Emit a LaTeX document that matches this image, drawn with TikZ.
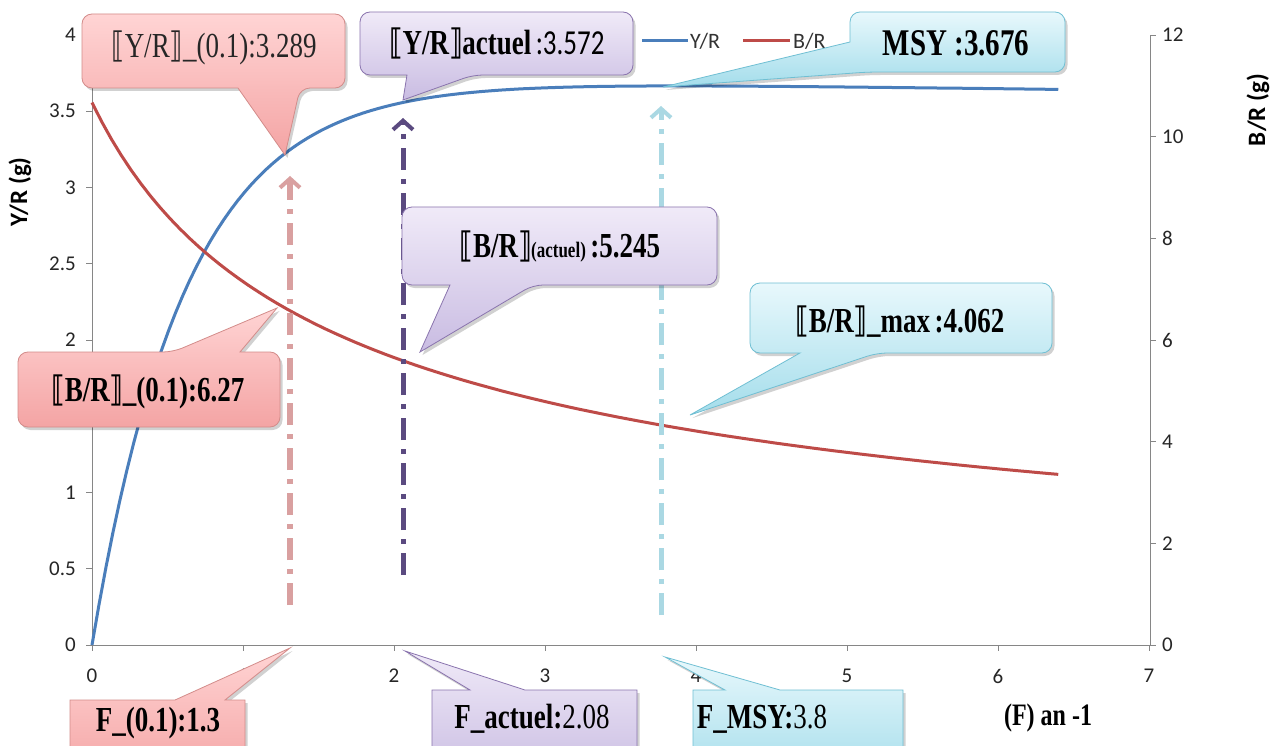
\documentclass[tikz,border=0pt]{standalone}
\usepackage{fontspec}
\usepackage{graphicx}
\setmainfont{Liberation Serif}
\newfontfamily\calfont{Carlito}
\newfontfamily\brfont{DejaVu Sans}
\usetikzlibrary{arrows.meta}
\newcommand{\obr}{{\brfont ⟦}}
\newcommand{\cbr}{{\brfont ⟧}}
\newcommand{\vstr}[1]{\scalebox{1}[1.3]{#1}}
\newcommand{\callout}[2]{\fill[black,opacity=.18,xshift=2.5pt,yshift=-3pt] #2; \path[#1] #2;}
\definecolor{axisgray}{HTML}{868686}
\definecolor{ybl}{HTML}{4A7EBB}
\definecolor{bred}{HTML}{BE4B48}
\definecolor{pinkT}{HTML}{FFD4D4}
\definecolor{pinkB}{HTML}{F4A4A4}
\definecolor{pinkD}{HTML}{D38C8A}
\definecolor{purT}{HTML}{F0EAF8}
\definecolor{purB}{HTML}{C9BCE2}
\definecolor{purD}{HTML}{8A74AE}
\definecolor{cyT}{HTML}{E8F8FC}
\definecolor{cyB}{HTML}{A4DDEB}
\definecolor{cyD}{HTML}{6FBFD3}
\definecolor{pinkArrow}{HTML}{D9A0A0}
\definecolor{purArrow}{HTML}{5B4A80}
\definecolor{cyArrow}{HTML}{AAD8E3}
\tikzset{
  axisline/.style={draw=axisgray,line width=1pt},
  ticklab/.style={font=\calfont\fontsize{21}{21}\selectfont,inner sep=0pt,text=black!85},
  axtitle/.style={font=\calfont\fontsize{25}{25}\selectfont\bfseries,inner sep=0pt,rotate=90},
  legtext/.style={font=\calfont\fontsize{22}{22}\selectfont,inner sep=0pt,anchor=west,text=black!80},
  pinkbox/.style={top color=pinkT,bottom color=pinkB,draw=pinkD,line width=0.8pt},
  purbox/.style={top color=purT,bottom color=purB,draw=purD,line width=0.8pt},
  cybox/.style={top color=cyT,bottom color=cyB,draw=cyD,line width=0.8pt},
  calltext/.style={font=\fontsize{27}{27}\selectfont,inner sep=0pt},
  varrow/.style={line width=5pt,dash pattern=on 22pt off 9pt on 5pt off 9pt,
     -{Straight Barb[length=9pt,width=20pt,line width=4pt]}},
}
\begin{document}
\begin{tikzpicture}[x=1pt,y=-1pt]
\useasboundingbox (0,0) rectangle (1277,746);
\clip (0,0) rectangle (1277,746);
\fill[white] (0,0) rectangle (1277,746);

% axes
\draw[axisline] (92,35) -- (92,645) -- (1150,645) -- (1150,35);
\foreach \v in {0,0.5,1,1.5,2,2.5,3,3.5,4} {
  \draw[axisline] (86,{645-152.5*\v}) -- (92,{645-152.5*\v});
}
\foreach \v [count=\i] in {0,0.5,1,2,2.5,3,3.5,4} {
  \node[ticklab,anchor=east,name=yl\i] at (76,{645-152.5*\v}) {\v};
}
\foreach \v [count=\i] in {0,2,4,6,8,10,12} {
  \draw[axisline] (1150,{645-50.833*\v}) -- (1156,{645-50.833*\v});
  \node[ticklab,anchor=west,name=rl\i] at (1162,{645-50.833*\v}) {\v};
}
\foreach \v [count=\i] in {0,1,2,3,4,5,6,7} {
  \draw[axisline] ({92+151*\v},645) -- ({92+151*\v},651);
  \node[ticklab,name=xl\i] at ({92+151*\v},676) {\v};
}
\node[axtitle,name=ytitle] at (20,192) {Y/R (g)};
\node[axtitle,name=btitle] at (1258,110) {B/R (g)};

% curves
\draw[ybl,line width=3pt] plot[domain=0:6.4,samples=140,variable=\t]
  ({92+151*\t},{645-152.5*(3.72*(1-exp(-1.6*\t))-0.012*\t)});
\draw[bred,line width=3pt] plot[domain=0:6.4,samples=100,variable=\t]
  ({92+151*\t},{645-542.4*exp(-0.578*ln(1+\t))});

% legend
\coordinate (lb0) at (642,41); \coordinate (lb1) at (688,41);
\draw[ybl,line width=3pt] (lb0) -- (lb1);
\node[legtext,name=legY] at (690,41) {Y/R};
\coordinate (lr0) at (743,41); \coordinate (lr1) at (790,41);
\draw[bred,line width=3pt] (lr0) -- (lr1);
\node[legtext,name=legB] at (793,41) {B/R};

% vertical arrows
\coordinate (pa0) at (290,605); \coordinate (pa1) at (290,176);
\draw[varrow,pinkArrow,line width=6pt] (pa0) -- (pa1);
\coordinate (ua0) at (403,575); \coordinate (ua1) at (403,118);
\draw[varrow,purArrow] (ua0) -- (ua1);
\coordinate (ca0) at (661,615); \coordinate (ca1) at (661,106);
\draw[varrow,cyArrow] (ca0) -- (ca1);

% callouts
\callout{pinkbox}{[rounded corners=10pt] (82,14) -- (345,14) -- (345,88) -- (300,88) [sharp corners] -- (285,155) -- (238,88) [rounded corners=10pt] -- (82,88) -- cycle}
\node[calltext,text=black!85,name=cA] at (214,48) {\vstr{\obr Y/R\cbr\_(0.1):3.289}};

\callout{purbox}{[rounded corners=10pt] (360,12) -- (633,12) -- (633,75) -- (473,75) [sharp corners] -- (403,100) -- (407,75) [rounded corners=10pt] -- (360,75) -- cycle}
\node[calltext,name=cB] at (497,43) {\vstr{\bfseries\obr Y/R\cbr actuel\,{\calfont\mdseries :3.572}}};

\callout{cybox}{[rounded corners=10pt] (850,12) -- (1065,12) -- (1065,72) -- (868,72) [sharp corners] -- (663,87) -- (850,42) [rounded corners=10pt] -- cycle}
\node[calltext,font=\fontsize{29}{29}\selectfont\bfseries,name=cC] at (956,43) {\vstr{MSY :3.676}};

\callout{purbox}{[rounded corners=10pt] (402,207) -- (717,207) -- (717,285) -- (533,285) [sharp corners] -- (420,352) -- (450,285) [rounded corners=10pt] -- (402,285) -- cycle}
\node[calltext,name=cD] at (560,247) {\vstr{\bfseries\obr B/R\cbr{\fontsize{17}{17}\selectfont(actuel)}\,:5.245}};

\callout{pinkbox}{[rounded corners=10pt] (18,352) -- (173,352) [sharp corners] -- (277,308) -- (240,352) [rounded corners=10pt] -- (280,352) -- (280,427) -- (18,427) -- cycle}
\node[calltext,name=cE] at (148,392) {\vstr{\bfseries\obr B/R\cbr\_(0.1):6.27}};

\callout{cybox}{[rounded corners=10pt] (750,283) -- (1052,283) -- (1052,353) -- (877,353) [sharp corners] -- (690,415) -- (800,353) [rounded corners=10pt] -- (750,353) -- cycle}
\node[calltext,name=cF] at (900,322) {\vstr{\bfseries\obr B/R\cbr\_max\,:4.062}};

\callout{pinkbox}{(70,700) -- (175,700) -- (290,648) -- (225,700) -- (245,700) -- (245,780) -- (70,780) -- cycle}
\node[calltext,name=cG] at (158,723) {\vstr{\bfseries F\_(0.1):1.3}};

\callout{purbox}{(432,690) -- (470,690) -- (405,651) -- (525,690) -- (637,690) -- (637,780) -- (432,780) -- cycle}
\node[calltext,name=cH] at (532,719) {\vstr{\bfseries F\_actuel:{\mdseries 2.08}}};

\callout{cybox}{(693,690) -- (725,690) -- (665,657) -- (780,690) -- (903,690) -- (903,780) -- (693,780) -- cycle}
\node[calltext,name=cI] at (762,719) {\vstr{\bfseries F\_MSY:{\mdseries 3.8}}};

\node[calltext,font=\fontsize{24}{24}\selectfont\bfseries,name=fan] at (1048,718) {\vstr{(F) an -1}};
\end{tikzpicture}
\end{document}
